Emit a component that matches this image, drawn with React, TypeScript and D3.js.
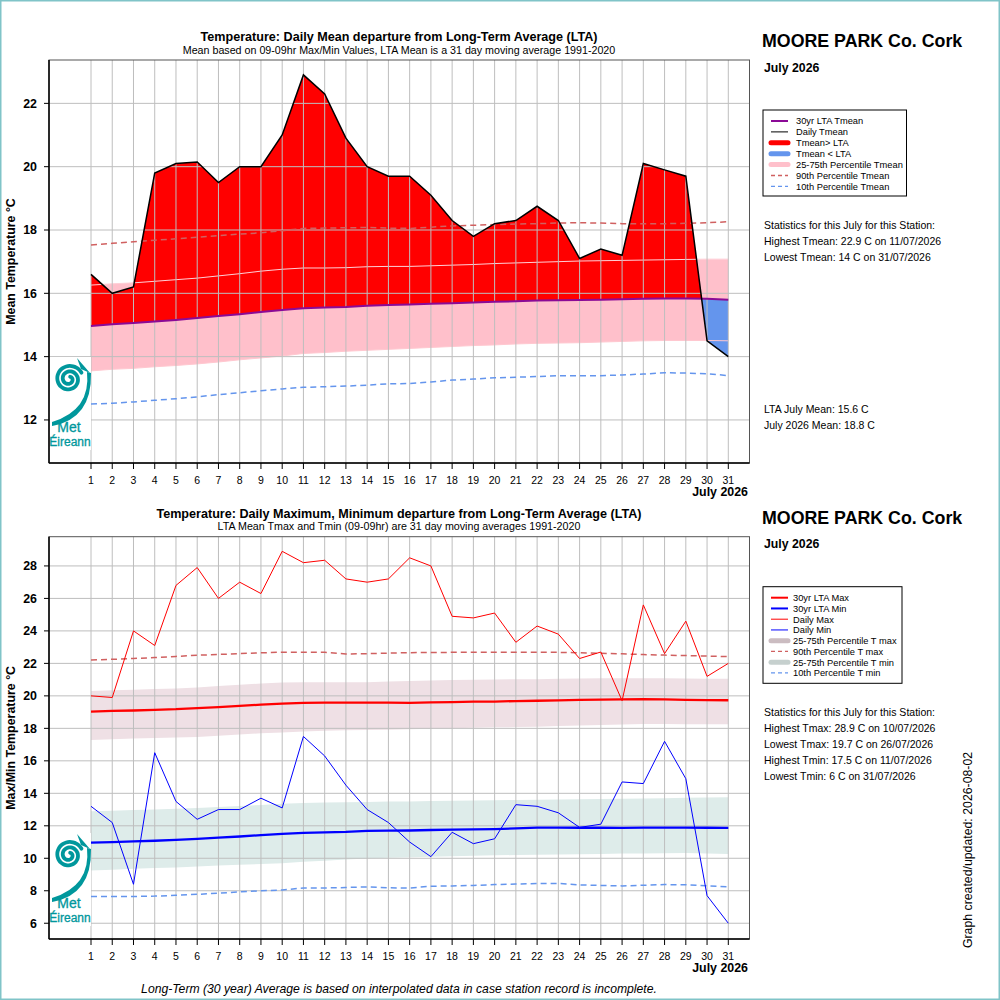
import * as d3 from "d3";

// day of month categories
const days = [1, 2, 3, 4, 5, 6, 7, 8, 9, 10, 11, 12, 13, 14, 15, 16, 17, 18, 19, 20, 21, 22, 23, 24, 25, 26, 27, 28, 29, 30, 31];

// top panel: daily mean temperature and its long-term stats
const tmeanDaily = [16.6, 16.0, 16.2, 19.8, 20.1, 20.15, 19.5, 20.0, 20.0, 21.0, 22.9, 22.3, 20.9, 20.0, 19.7, 19.7, 19.1, 18.3, 17.8, 18.2, 18.3, 18.75, 18.3, 17.1, 17.4, 17.2, 20.1, 19.9, 19.7, 14.5, 14.0];
const tmeanLta = [14.97, 15.02, 15.06, 15.11, 15.16, 15.22, 15.28, 15.34, 15.41, 15.47, 15.53, 15.55, 15.57, 15.61, 15.63, 15.65, 15.67, 15.69, 15.71, 15.73, 15.75, 15.77, 15.78, 15.79, 15.8, 15.81, 15.83, 15.84, 15.84, 15.83, 15.8];
const tmeanP25 = [13.55, 13.6, 13.63, 13.68, 13.72, 13.77, 13.83, 13.9, 13.96, 14.02, 14.1, 14.13, 14.17, 14.2, 14.23, 14.26, 14.29, 14.32, 14.35, 14.37, 14.4, 14.42, 14.43, 14.44, 14.46, 14.48, 14.5, 14.51, 14.51, 14.51, 14.5];
const tmeanP75 = [16.26, 16.3, 16.33, 16.38, 16.43, 16.48, 16.55, 16.62, 16.7, 16.76, 16.8, 16.8, 16.81, 16.84, 16.85, 16.85, 16.87, 16.89, 16.91, 16.94, 16.96, 16.98, 17.0, 17.02, 17.03, 17.04, 17.05, 17.06, 17.07, 17.08, 17.08];
const tmeanP90 = [17.53, 17.58, 17.63, 17.68, 17.72, 17.77, 17.82, 17.87, 17.91, 17.98, 18.05, 18.06, 18.07, 18.08, 18.06, 18.05, 18.09, 18.13, 18.15, 18.17, 18.19, 18.2, 18.22, 18.23, 18.22, 18.2, 18.2, 18.2, 18.21, 18.23, 18.26];
const tmeanP10 = [12.5, 12.53, 12.57, 12.62, 12.67, 12.73, 12.8, 12.86, 12.92, 12.98, 13.03, 13.05, 13.07, 13.1, 13.14, 13.15, 13.2, 13.26, 13.29, 13.33, 13.35, 13.37, 13.4, 13.4, 13.4, 13.42, 13.45, 13.49, 13.48, 13.46, 13.4];

// bottom panel: daily max / min and long-term stats
const tmaxDaily = [20.0, 19.9, 24.0, 23.1, 26.8, 27.9, 26.0, 27.0, 26.3, 28.9, 28.2, 28.35, 27.2, 27.0, 27.2, 28.5, 28.0, 24.9, 24.8, 25.1, 23.3, 24.3, 23.8, 22.3, 22.7, 19.7, 25.6, 22.6, 24.6, 21.2, 22.0];
const tminDaily = [13.2, 12.2, 8.4, 16.5, 13.5, 12.4, 13.0, 13.0, 13.7, 13.1, 17.5, 16.3, 14.5, 13.0, 12.2, 11.0, 10.1, 11.6, 10.9, 11.2, 13.3, 13.2, 12.8, 11.9, 12.1, 14.7, 14.6, 17.2, 14.9, 7.7, 6.0];
const tmaxLta = [19.03, 19.07, 19.1, 19.14, 19.18, 19.25, 19.31, 19.38, 19.46, 19.52, 19.57, 19.58, 19.58, 19.58, 19.58, 19.57, 19.6, 19.62, 19.64, 19.65, 19.68, 19.7, 19.72, 19.75, 19.77, 19.78, 19.8, 19.78, 19.75, 19.74, 19.73];
const tminLta = [10.97, 11.0, 11.04, 11.08, 11.13, 11.2, 11.27, 11.34, 11.43, 11.5, 11.57, 11.6, 11.63, 11.69, 11.7, 11.71, 11.74, 11.77, 11.78, 11.8, 11.84, 11.89, 11.89, 11.88, 11.88, 11.87, 11.89, 11.89, 11.89, 11.88, 11.87];
const tmaxP25 = [17.29, 17.33, 17.37, 17.4, 17.43, 17.47, 17.55, 17.62, 17.7, 17.75, 17.8, 17.85, 17.88, 17.9, 17.92, 17.94, 17.97, 18.0, 18.03, 18.06, 18.08, 18.1, 18.14, 18.18, 18.21, 18.24, 18.27, 18.27, 18.26, 18.25, 18.25];
const tmaxP75 = [20.3, 20.34, 20.38, 20.42, 20.46, 20.51, 20.6, 20.68, 20.76, 20.82, 20.84, 20.84, 20.84, 20.84, 20.88, 20.92, 20.95, 20.97, 20.99, 21.01, 21.02, 21.03, 21.05, 21.07, 21.08, 21.09, 21.09, 21.08, 21.07, 21.06, 21.05];
const tmaxP90 = [22.21, 22.25, 22.3, 22.36, 22.43, 22.5, 22.55, 22.6, 22.65, 22.69, 22.69, 22.68, 22.58, 22.6, 22.63, 22.66, 22.67, 22.68, 22.68, 22.68, 22.69, 22.69, 22.68, 22.65, 22.62, 22.59, 22.54, 22.51, 22.48, 22.45, 22.42];
const tminP25 = [9.24, 9.3, 9.35, 9.4, 9.44, 9.49, 9.55, 9.6, 9.65, 9.7, 9.78, 9.85, 9.92, 9.99, 10.03, 10.07, 10.1, 10.13, 10.16, 10.18, 10.2, 10.22, 10.24, 10.25, 10.27, 10.29, 10.3, 10.31, 10.32, 10.3, 10.27];
const tminP75 = [12.89, 12.93, 12.97, 13.01, 13.05, 13.1, 13.16, 13.22, 13.28, 13.35, 13.4, 13.43, 13.45, 13.47, 13.49, 13.5, 13.52, 13.54, 13.56, 13.58, 13.59, 13.6, 13.62, 13.63, 13.65, 13.66, 13.68, 13.7, 13.72, 13.74, 13.76];
const tminP10 = [7.65, 7.65, 7.65, 7.67, 7.72, 7.78, 7.85, 7.93, 8.0, 8.05, 8.17, 8.17, 8.2, 8.24, 8.18, 8.17, 8.28, 8.3, 8.33, 8.38, 8.41, 8.45, 8.45, 8.36, 8.33, 8.3, 8.34, 8.38, 8.37, 8.3, 8.24];

const topTicks = [12, 14, 16, 18, 20, 22];
const botTicks = [6, 8, 10, 12, 14, 16, 18, 20, 22, 24, 26, 28];

const topStats = [
  "Statistics for this July for this Station:",
  "Highest Tmean: 22.9 C on 11/07/2026",
  "Lowest Tmean: 14 C on 31/07/2026",
];
const topMeans = ["LTA July Mean: 15.6 C", "July 2026 Mean: 18.8 C"];
const botStats = [
  "Statistics for this July for this Station:",
  "Highest Tmax: 28.9 C on 10/07/2026",
  "Lowest Tmax: 19.7 C on 26/07/2026",
  "Highest Tmin: 17.5 C on 11/07/2026",
  "Lowest Tmin: 6 C on 31/07/2026",
];

const FONT = "'Liberation Sans', Arial, Helvetica, sans-serif";
const RED = "#ff0000";
const BLUE = "#0000ff";
const CORNFLOWER = "#6495ed";
const INDIAN = "#d06060";
const PURPLE = "#8b0a96";
const PINK = "#ffc0cb";
const TEAL = "#00979c";

type Box = { left: number; right: number; top: number; bottom: number };
type Item = { label: string; color: string; width: number; dash?: string; cap?: "round" | "butt" };

const x = d3.scaleLinear().domain([1, 31]).range([91, 728.3]);

const topBox: Box = { left: 49, right: 749.5, top: 60, bottom: 463 };
const yTop = d3.scaleLinear().domain([10.64, 23.37]).range([topBox.bottom, topBox.top]);
const botBox: Box = { left: 49, right: 749.5, top: 536.7, bottom: 939 };
const yBot = d3.scaleLinear().domain([5.03, 29.8]).range([botBox.bottom, botBox.top]);

const line = (y: d3.ScaleLinear<number, number>, vals: number[]) =>
  d3.line<number>().x((_, i) => x(days[i])).y((d) => y(d))(vals) || "";

const band = (y: d3.ScaleLinear<number, number>, lo: number[], hi: number[]) =>
  d3.area<number>().x((_, i) => x(days[i])).y0((_, i) => y(lo[i])).y1((d) => y(d))(hi) || "";

const topItems: Item[] = [
  { label: "30yr LTA Tmean", color: PURPLE, width: 2 },
  { label: "Daily Tmean", color: "#000", width: 1 },
  { label: "Tmean> LTA", color: RED, width: 5, cap: "round" },
  { label: "Tmean < LTA", color: CORNFLOWER, width: 5, cap: "round" },
  { label: "25-75th Percentile Tmean", color: PINK, width: 5, cap: "round" },
  { label: "90th Percentile Tmean", color: INDIAN, width: 1.3, dash: "4,3" },
  { label: "10th Percentile Tmean", color: CORNFLOWER, width: 1.3, dash: "4,3" },
];
const botItems: Item[] = [
  { label: "30yr LTA Max", color: RED, width: 2 },
  { label: "30yr LTA Min", color: BLUE, width: 2 },
  { label: "Daily Max", color: RED, width: 1 },
  { label: "Daily Min", color: BLUE, width: 1 },
  { label: "25-75th Percentile T max", color: "#cbbcc1", width: 5, cap: "round" },
  { label: "90th Percentile T max", color: INDIAN, width: 1.3, dash: "4,3" },
  { label: "25-75th Percentile T min", color: "#c6d0ce", width: 5, cap: "round" },
  { label: "10th Percentile T min", color: CORNFLOWER, width: 1.3, dash: "4,3" },
];

function Grid({ box, y, ticks }: { box: Box; y: d3.ScaleLinear<number, number>; ticks: number[] }) {
  return (
    <g stroke="#bebebe" strokeWidth={1}>
      {days.map((d) => (
        <line key={"v" + d} x1={x(d)} x2={x(d)} y1={box.top} y2={box.bottom} />
      ))}
      {ticks.map((t) => (
        <line key={"h" + t} x1={box.left} x2={box.right} y1={y(t)} y2={y(t)} />
      ))}
    </g>
  );
}

function Axes({ box, y, ticks, label }: { box: Box; y: d3.ScaleLinear<number, number>; ticks: number[]; label: string }) {
  const cy = (box.top + box.bottom) / 2;
  return (
    <g fontFamily={FONT}>
      <rect x={box.left} y={box.top} width={box.right - box.left} height={box.bottom - box.top} fill="none" stroke="#555" strokeWidth={1} />
      <line x1={box.left} x2={box.left} y1={box.top} y2={box.bottom} stroke="#000" strokeWidth={1.5} />
      <line x1={box.left} x2={box.right} y1={box.bottom} y2={box.bottom} stroke="#000" strokeWidth={1.5} />
      {ticks.map((t) => (
        <g key={t}>
          <line x1={box.left - 5} x2={box.left} y1={y(t)} y2={y(t)} stroke="#000" />
          <text x={37} y={y(t) + 4.4} textAnchor="end" fontSize={12.4} fontWeight="bold">{t}</text>
        </g>
      ))}
      {days.map((d) => (
        <g key={d}>
          <line x1={x(d)} x2={x(d)} y1={box.bottom} y2={box.bottom + 6} stroke="#000" />
          <text x={x(d)} y={box.bottom + 20.5} textAnchor="middle" fontSize={10.5}>{d}</text>
        </g>
      ))}
      <text x={748} y={box.bottom + 33} textAnchor="end" fontSize={12.4} fontWeight="bold">July 2026</text>
      <text transform={`translate(15,${cy}) rotate(-90)`} textAnchor="middle" fontSize={12.4} fontWeight="bold">{label}</text>
    </g>
  );
}

function Logo({ top }: { top: number }) {
  const cx = 69;
  const cy = top + 21;
  // decorative spiral for the logo mark
  const pts: [number, number][] = d3.range(0, 1.001, 0.02).map((t) => {
    const a = Math.PI * 0.35 - t * Math.PI * 4.2;
    const r = 14 - t * 11.5;
    return [a, r];
  });
  const spiral = d3.lineRadial().angle((p) => p[0]).radius((p) => p[1]).curve(d3.curveCatmullRom)(pts) || "";
  return (
    <g>
      <rect x={50} y={top - 1} width={41} height={93} fill="#fff" />
      <path d={spiral} transform={`translate(${cx},${cy})`} fill="none" stroke={TEAL} strokeWidth={3.8} strokeLinecap="round" />
      <path
        d={`M${cx - 17},${top + 64} Q${cx + 22},${top + 52} ${cx + 18},${top + 14} L${cx + 22},${top + 15} Q${cx + 23},${top + 61} ${cx - 17},${top + 68} Z`}
        fill={TEAL}
      />
      <path d={`M${cx + 8},${top} L${cx + 21},${top + 15} L${cx + 12},${top + 11} Z`} fill={TEAL} />
      <text x={cx} y={top + 74} textAnchor="middle" fontFamily={FONT} fontSize={14} fill={TEAL} stroke={TEAL} strokeWidth={0.3}>Met</text>
      <text x={cx + 1} y={top + 88} textAnchor="middle" fontFamily={FONT} fontSize={12} fill={TEAL} stroke={TEAL} strokeWidth={0.3}>Éireann</text>
    </g>
  );
}

function Legend({ x0, y0, w, h, first, step, textX, items }: { x0: number; y0: number; w: number; h: number; first: number; step: number; textX: number; items: Item[] }) {
  return (
    <g fontFamily={FONT} fontSize={9.3}>
      <rect x={x0} y={y0} width={w} height={h} fill="#fff" stroke="#000" strokeWidth={1} />
      {items.map((it, i) => {
        const cy = first + i * step;
        return (
          <g key={it.label}>
            <line x1={771} x2={788} y1={cy} y2={cy} stroke={it.color} strokeWidth={it.width} strokeDasharray={it.dash} strokeLinecap={it.cap || "butt"} />
            <text x={textX} y={cy + 3.3}>{it.label}</text>
          </g>
        );
      })}
    </g>
  );
}

function Header({ title, sub, yTitle, ySub, yStation, yMonth }: { title: string; sub: string; yTitle: number; ySub: number; yStation: number; yMonth: number }) {
  return (
    <g fontFamily={FONT}>
      <text x={399} y={yTitle} textAnchor="middle" fontSize={12.6} fontWeight="bold">{title}</text>
      <text x={399} y={ySub} textAnchor="middle" fontSize={10.7}>{sub}</text>
      <text x={762} y={yStation} fontSize={17.8} fontWeight="bold">MOORE PARK Co. Cork</text>
      <text x={764} y={yMonth} fontSize={12.3} fontWeight="bold">July 2026</text>
    </g>
  );
}

export default function App() {
  const fillArea = d3
    .area<number>()
    .x((_, i) => x(days[i]))
    .y0((_, i) => yTop(tmeanLta[i]))
    .y1((d) => yTop(d))(tmeanDaily) || "";
  const aboveClip = d3
    .area<number>()
    .x((_, i) => x(days[i]))
    .y0(topBox.top)
    .y1((d) => yTop(d))(tmeanLta) || "";
  const belowClip = d3
    .area<number>()
    .x((_, i) => x(days[i]))
    .y0(topBox.bottom)
    .y1((d) => yTop(d))(tmeanLta) || "";

  return (
    <svg width={1000} height={1000} style={{ position: "absolute", left: 0, top: 0, background: "#fff" }}>
      <defs>
        <clipPath id="above"><path d={aboveClip} /></clipPath>
        <clipPath id="below"><path d={belowClip} /></clipPath>
      </defs>
      <rect x={0} y={0} width={1000} height={1000} fill="#fff" />

      {/* top panel */}
      <Header
        title="Temperature: Daily Mean departure from Long-Term Average (LTA)"
        sub="Mean based on 09-09hr Max/Min Values, LTA Mean is a 31 day moving average 1991-2020"
        yTitle={41}
        ySub={54}
        yStation={47.3}
        yMonth={71.5}
      />
      <path d={band(yTop, tmeanP25, tmeanP75)} fill={PINK} />
      <path d={fillArea} fill={RED} clipPath="url(#above)" />
      <path d={fillArea} fill={CORNFLOWER} clipPath="url(#below)" />
      <path d={line(yTop, tmeanP75)} fill="none" stroke="#ffcfd6" strokeWidth={1} />
      <path d={line(yTop, tmeanP25)} fill="none" stroke="#ffc8d0" strokeWidth={1} />
      <Grid box={topBox} y={yTop} ticks={topTicks} />
      <path d={line(yTop, tmeanP90)} fill="none" stroke={INDIAN} strokeWidth={1.5} strokeDasharray="6,4" />
      <path d={line(yTop, tmeanP10)} fill="none" stroke={CORNFLOWER} strokeWidth={1.5} strokeDasharray="6,4" />
      <path d={line(yTop, tmeanLta)} fill="none" stroke={PURPLE} strokeWidth={2} />
      <path d={line(yTop, tmeanDaily)} fill="none" stroke="#000" strokeWidth={1.5} />
      <Logo top={358} />
      <Axes box={topBox} y={yTop} ticks={topTicks} label="Mean Temperature °C" />
      <Legend x0={763} y0={110} w={143.5} h={86} first={121} step={10.9} textX={796} items={topItems} />
      <g fontFamily={FONT} fontSize={10.5}>
        {topStats.map((s, i) => (
          <text key={s} x={764} y={229 + i * 16}>{s}</text>
        ))}
        {topMeans.map((s, i) => (
          <text key={s} x={764} y={413 + i * 16}>{s}</text>
        ))}
      </g>

      {/* bottom panel */}
      <Header
        title="Temperature: Daily Maximum, Minimum departure from Long-Term Average (LTA)"
        sub="LTA Mean Tmax and Tmin (09-09hr) are 31 day moving averages 1991-2020"
        yTitle={518}
        ySub={530}
        yStation={524}
        yMonth={547.5}
      />
      <path d={band(yBot, tmaxP25, tmaxP75)} fill="#efe0e5" />
      <path d={band(yBot, tminP25, tminP75)} fill="#deecea" />
      <Grid box={botBox} y={yBot} ticks={botTicks} />
      <path d={line(yBot, tmaxP90)} fill="none" stroke={INDIAN} strokeWidth={1.5} strokeDasharray="6,4" />
      <path d={line(yBot, tminP10)} fill="none" stroke={CORNFLOWER} strokeWidth={1.5} strokeDasharray="6,4" />
      <path d={line(yBot, tmaxLta)} fill="none" stroke={RED} strokeWidth={2.3} />
      <path d={line(yBot, tminLta)} fill="none" stroke={BLUE} strokeWidth={2.3} />
      <path d={line(yBot, tmaxDaily)} fill="none" stroke={RED} strokeWidth={1} />
      <path d={line(yBot, tminDaily)} fill="none" stroke={BLUE} strokeWidth={1} />
      <Logo top={834} />
      <Axes box={botBox} y={yBot} ticks={botTicks} label="Max/Min Temperature °C" />
      <Legend x0={763} y0={586.7} w={139} h={96.6} first={597.7} step={10.75} textX={793} items={botItems} />
      <g fontFamily={FONT} fontSize={10.5}>
        {botStats.map((s, i) => (
          <text key={s} x={764} y={716 + i * 16}>{s}</text>
        ))}
      </g>

      <text transform="translate(972,850) rotate(-90)" textAnchor="middle" fontFamily={FONT} fontSize={12.3}>
        Graph created/updated:  2026-08-02
      </text>
      <text x={399} y={993} textAnchor="middle" fontFamily={FONT} fontSize={12.2} fontStyle="italic" xmlSpace="preserve">
        Long-Term (30 year) Average is based on interpolated data in case station record is incomplete.
      </text>
      <rect x={0.75} y={0.75} width={998.5} height={998.5} fill="none" stroke="#80c4c8" strokeWidth={1.5} />
    </svg>
  );
}
